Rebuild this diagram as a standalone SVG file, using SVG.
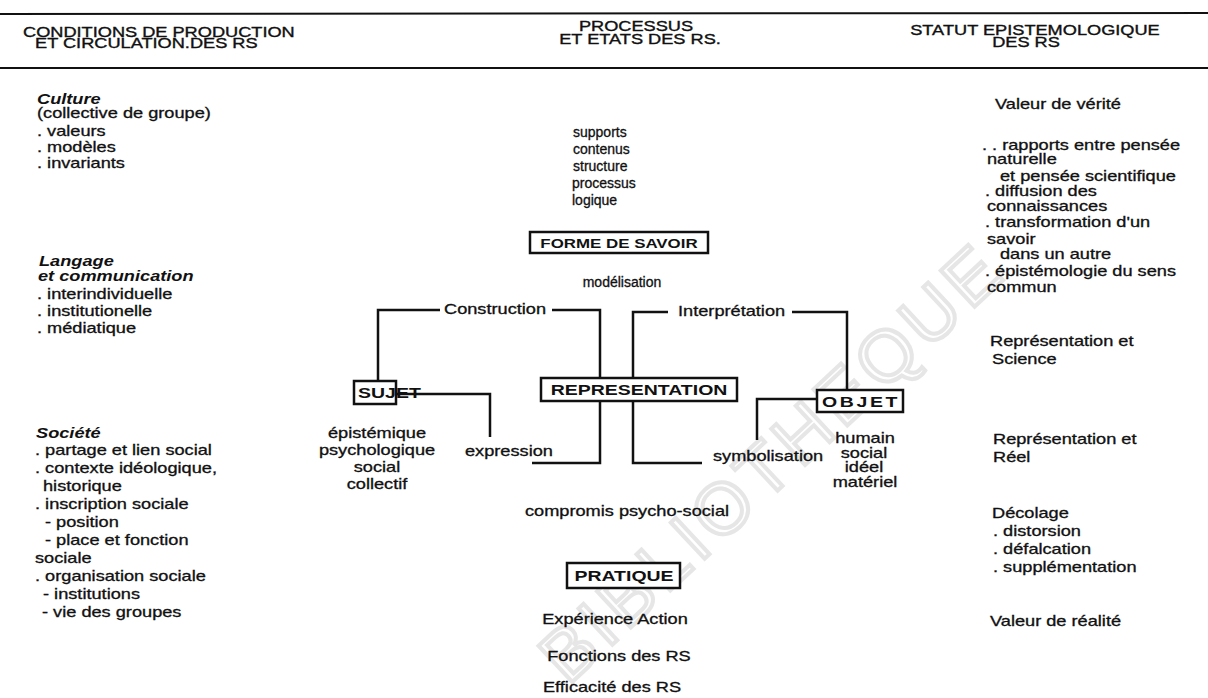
<svg xmlns="http://www.w3.org/2000/svg" width="1208" height="698" viewBox="0 0 1208 698">
<style>
.t{font-family:"Liberation Sans",Arial,sans-serif;font-size:14px;fill:#111;stroke:#111;stroke-width:0.3}
.h{font-family:"Liberation Sans",Arial,sans-serif;font-size:14px;fill:#111;stroke:#111;stroke-width:0.35}
.bi{font-weight:bold;font-style:italic;stroke-width:0}
.m{text-anchor:middle}
.lbl{font-family:"Liberation Sans",Arial,sans-serif;font-weight:bold;fill:#111;text-anchor:middle}
.box{fill:#fff;stroke:#111;stroke-width:2.5}
.rule{stroke:#111;stroke-width:2;fill:none}
.wm{font-family:"Liberation Sans",Arial,sans-serif;font-size:72px;fill:none;stroke:#e6e6e6;stroke-width:4;letter-spacing:6px}
</style>
<rect width="1208" height="698" fill="#fff"/>
<text class="wm" transform="translate(568 686) rotate(-43)">BIBLIOTHEQUE</text>

<g id="header">
<line class="rule" x1="0" y1="14" x2="1208" y2="13"/>
<line class="rule" x1="0" y1="68" x2="1208" y2="68"/>
<text class="h" transform="matrix(1.3 0 0 1 23 37)">CONDITIONS DE PRODUCTION</text>
<text class="h" transform="matrix(1.3 0 0 1 35 48)">ET CIRCULATION.DES RS</text>
<text class="h m" transform="matrix(1.3 0 0 1 636 31)">PROCESSUS</text>
<text class="h m" transform="matrix(1.3 0 0 1 640 44)">ET ETATS DES RS.</text>
<text class="h m" transform="matrix(1.3 0 0 1 1035 35)">STATUT EPISTEMOLOGIQUE</text>
<text class="h m" transform="matrix(1.3 0 0 1 1026 47)">DES RS</text>
</g>

<g id="col-left">
<text class="t bi" transform="matrix(1.3 0 0 1 37 104)">Culture</text>
<text class="t" transform="matrix(1.3 0 0 1 37 118)">(collective de groupe)</text>
<text class="t" transform="matrix(1.3 0 0 1 37 136)">. valeurs</text>
<text class="t" transform="matrix(1.3 0 0 1 37 152)">. modèles</text>
<text class="t" transform="matrix(1.3 0 0 1 37 168)">. invariants</text>
<text class="t bi" transform="matrix(1.3 0 0 1 39 266)">Langage</text>
<text class="t bi" transform="matrix(1.3 0 0 1 38 281)">et communication</text>
<text class="t" transform="matrix(1.3 0 0 1 37 299)">. interindividuelle</text>
<text class="t" transform="matrix(1.3 0 0 1 37 316)">. institutionelle</text>
<text class="t" transform="matrix(1.3 0 0 1 37 333)">. médiatique</text>
<text class="t bi" transform="matrix(1.3 0 0 1 36 438)">Société</text>
<text class="t" transform="matrix(1.3 0 0 1 35 455)">. partage et lien social</text>
<text class="t" transform="matrix(1.3 0 0 1 35 473)">. contexte idéologique,</text>
<text class="t" transform="matrix(1.3 0 0 1 43 491)">historique</text>
<text class="t" transform="matrix(1.3 0 0 1 35 509)">. inscription sociale</text>
<text class="t" transform="matrix(1.3 0 0 1 45 527)">- position</text>
<text class="t" transform="matrix(1.3 0 0 1 45 545)">- place  et fonction</text>
<text class="t" transform="matrix(1.3 0 0 1 35 563)">sociale</text>
<text class="t" transform="matrix(1.3 0 0 1 35 581)">. organisation sociale</text>
<text class="t" transform="matrix(1.3 0 0 1 43 599)">- institutions</text>
<text class="t" transform="matrix(1.3 0 0 1 42 617)">- vie des groupes</text>
</g>

<g id="col-right">
<text class="t" transform="matrix(1.3 0 0 1 995 109)">Valeur de vérité</text>
<text class="t" transform="matrix(1.3 0 0 1 982 150)">. . rapports entre pensée</text>
<text class="t" transform="matrix(1.3 0 0 1 987 164)">naturelle</text>
<text class="t" transform="matrix(1.3 0 0 1 1000 181)">et pensée scientifique</text>
<text class="t" transform="matrix(1.3 0 0 1 985 196)">. diffusion des</text>
<text class="t" transform="matrix(1.3 0 0 1 987 211)">connaissances</text>
<text class="t" transform="matrix(1.3 0 0 1 985 227)">. transformation d'un</text>
<text class="t" transform="matrix(1.3 0 0 1 987 244)">savoir</text>
<text class="t" transform="matrix(1.3 0 0 1 1000 259)">dans un autre</text>
<text class="t" transform="matrix(1.3 0 0 1 985 276)">. épistémologie du sens</text>
<text class="t" transform="matrix(1.3 0 0 1 987 292)">commun</text>
<text class="t" transform="matrix(1.3 0 0 1 990 346)">Représentation et</text>
<text class="t" transform="matrix(1.3 0 0 1 992 364)">Science</text>
<text class="t" transform="matrix(1.3 0 0 1 993 444)">Représentation et</text>
<text class="t" transform="matrix(1.3 0 0 1 993 462)">Réel</text>
<text class="t" transform="matrix(1.3 0 0 1 992 518)">Décolage</text>
<text class="t" transform="matrix(1.3 0 0 1 993 536)">. distorsion</text>
<text class="t" transform="matrix(1.3 0 0 1 993 554)">. défalcation</text>
<text class="t" transform="matrix(1.3 0 0 1 993 572)">. supplémentation</text>
<text class="t" transform="matrix(1.3 0 0 1 990 626)">Valeur de réalité</text>
</g>

<g id="savoir-items">
<text class="t" x="573" y="137">supports</text>
<text class="t" x="573" y="154">contenus</text>
<text class="t" x="573" y="171">structure</text>
<text class="t" x="572" y="188">processus</text>
<text class="t" x="572" y="205">logique</text>
</g>

<g id="connectors" fill="none" stroke="#111" stroke-width="2.5">
<path d="M378 381 V310 H440"/>
<path d="M552 310 H600 V378"/>
<path d="M633 378 V312 H668"/>
<path d="M792 312 H847 V390"/>
<path d="M396 394 H490 V437"/>
<path d="M600 401 V463 H532"/>
<path d="M633 401 V463 H702"/>
<path d="M817 399 H757 V440"/>
</g>

<g id="forme-de-savoir">
<rect class="box" x="530" y="232" width="178" height="21"/>
<text class="lbl" font-size="13" transform="matrix(1.3 0 0 1 619 248)">FORME DE SAVOIR</text>
</g>
<text class="t m" x="622" y="287">modélisation</text>
<text class="t" transform="matrix(1.3 0 0 1 444 314)">Construction</text>
<text class="t" transform="matrix(1.3 0 0 1 678 316)">Interprétation</text>

<g id="representation">
<rect class="box" x="541" y="378" width="196" height="23"/>
<text class="lbl" font-size="15" transform="matrix(1.3 0 0 1 639 395)">REPRESENTATION</text>
</g>

<g id="sujet">
<rect class="box" x="354" y="381" width="42" height="23"/>
<text class="lbl" font-size="15" style="text-anchor:start" transform="matrix(1.3 0 0 1 358 398)">SUJET</text>
<text class="t m" transform="matrix(1.3 0 0 1 377 438)">épistémique</text>
<text class="t m" transform="matrix(1.3 0 0 1 377 455)">psychologique</text>
<text class="t m" transform="matrix(1.3 0 0 1 377 472)">social</text>
<text class="t m" transform="matrix(1.3 0 0 1 377 489)">collectif</text>
</g>

<g id="objet">
<rect class="box" x="817" y="390" width="86" height="22"/>
<text class="lbl" font-size="15" letter-spacing="2" transform="matrix(1.3 0 0 1 861 407)">OBJET</text>
<text class="t m" transform="matrix(1.3 0 0 1 865 443)">humain</text>
<text class="t m" transform="matrix(1.3 0 0 1 864 458)">social</text>
<text class="t m" transform="matrix(1.3 0 0 1 864 472)">idéel</text>
<text class="t m" transform="matrix(1.3 0 0 1 865 487)">matériel</text>
</g>

<text class="t" transform="matrix(1.3 0 0 1 465 456)">expression</text>
<text class="t" transform="matrix(1.3 0 0 1 713 461)">symbolisation</text>
<text class="t m" transform="matrix(1.3 0 0 1 627 516)">compromis psycho-social</text>

<g id="pratique">
<rect class="box" x="567" y="563" width="113" height="25"/>
<text class="lbl" font-size="15" transform="matrix(1.3 0 0 1 624 581)">PRATIQUE</text>
</g>
<text class="t m" transform="matrix(1.3 0 0 1 615 624)">Expérience   Action</text>
<text class="t m" transform="matrix(1.3 0 0 1 619 661)">Fonctions des RS</text>
<text class="t m" transform="matrix(1.3 0 0 1 612 692)">Efficacité des RS</text>
</svg>
